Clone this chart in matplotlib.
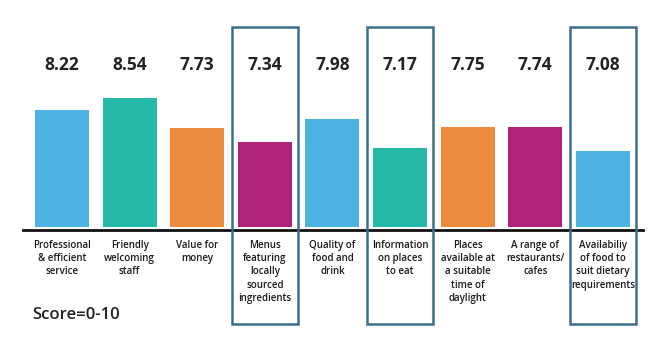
import matplotlib
matplotlib.use("Agg")
import matplotlib.pyplot as plt
from matplotlib.patches import Rectangle

categories = [
    "Professional\n& efficient\nservice",
    "Friendly\nwelcoming\nstaff",
    "Value for\nmoney",
    "Menus\nfeaturing\nlocally\nsourced\ningredients",
    "Quality of\nfood and\ndrink",
    "Information\non places\nto eat",
    "Places\navailable at\na suitable\ntime of\ndaylight",
    "A range of\nrestaurants/\ncafes",
    "Availabiliy\nof food to\nsuit dietary\nrequirements",
]
scores = [8.22, 8.54, 7.73, 7.34, 7.98, 7.17, 7.75, 7.74, 7.08]
highlighted = [3, 5, 8]
score_note = "Score=0-10"

BLUE, TEAL, ORANGE, MAGENTA = "#4DB3E3", "#26B9A8", "#EC8B40", "#B0237A"
colors = [BLUE, TEAL, ORANGE, MAGENTA, BLUE, TEAL, ORANGE, MAGENTA, BLUE]
BOX = "#3A6F8A"

W, H = 670, 356
BASEPX = 227
fig = plt.figure(figsize=(W / 100, H / 100), dpi=100)
ax = fig.add_axes([23 / W, (H - BASEPX) / H, (643 - 23) / W, BASEPX / H])
base = 5.0
ppu = 36.4
ax.set_ylim(base, base + BASEPX / ppu)
ax.set_xlim((23 - 62) / 67.6, (643 - 62) / 67.6)

x = list(range(len(scores)))
ax.bar(x, [s - base for s in scores], bottom=base, width=0.8, color=colors, zorder=2)

for s in ["top", "right", "left", "bottom"]:
    ax.spines[s].set_visible(False)
ax.axhline(base - 3.3 / ppu, color="#111111", linewidth=2, clip_on=False)
ax.set_xticks([])
ax.set_yticks([])

font = "Open Sans"
for xi, s in zip(x, scores):
    ax.text(xi, base + (BASEPX - 65) / ppu, f"{s:.2f}", ha="center", va="center",
            fontsize=12.5, fontweight="bold", family=font, color="#222222")

for xi, c in zip(x, categories):
    ax.text(xi, base - 13 / ppu, c, ha="center", va="top", fontsize=7,
            fontweight="semibold", family=font, color="#1a1a1a",
            linespacing=1.28, clip_on=False)

for i in highlighted:
    y0 = base - (324 - BASEPX) / ppu
    y1 = base + (BASEPX - 27) / ppu
    ax.add_patch(Rectangle((i - 0.49, y0), 0.98, y1 - y0, fill=False,
                           edgecolor=BOX, linewidth=1.8, clip_on=False, zorder=3))

fig.text(32 / W, (H - 315) / H, score_note, ha="left", va="center",
         fontsize=12, fontweight="semibold", family=font, color="#222222")

fig.savefig("out.png", dpi=100)
